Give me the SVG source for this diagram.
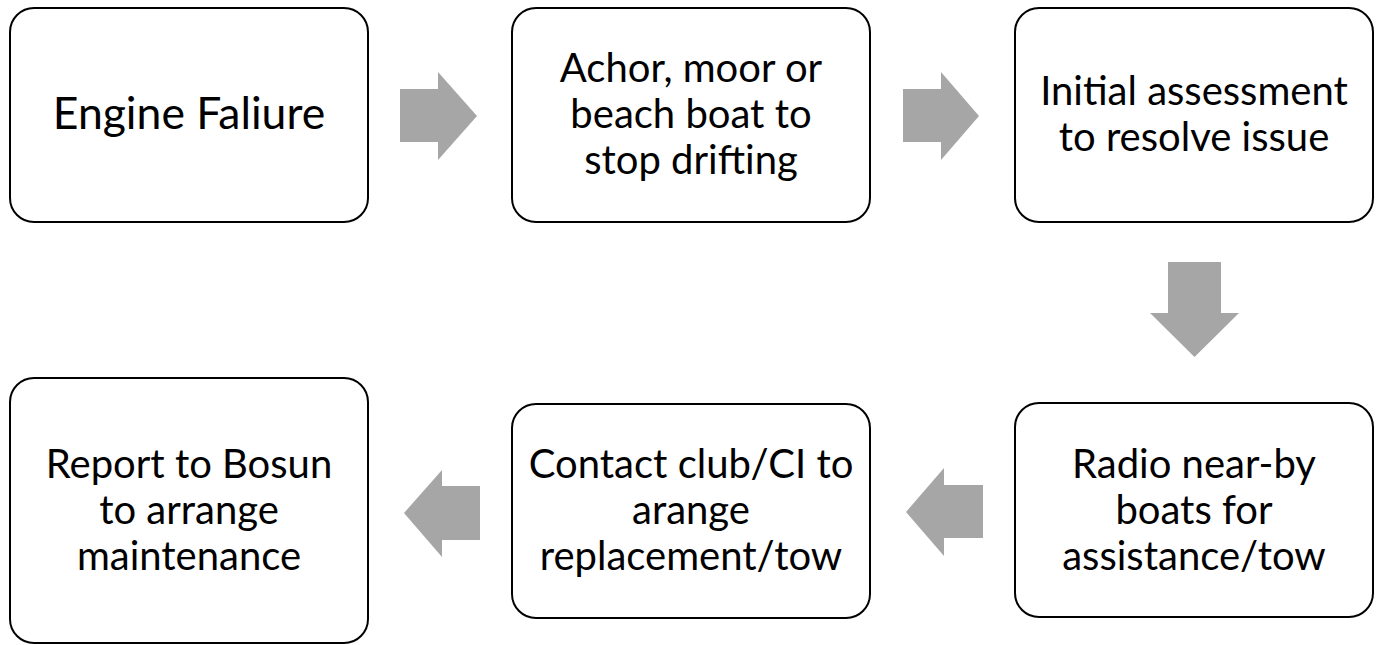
<svg xmlns="http://www.w3.org/2000/svg" width="1381" height="645" viewBox="0 0 1381 645">
<style>
.box{fill:#fff;stroke:#000;stroke-width:2}
.t{font-family:Lato,"Liberation Sans",sans-serif;font-size:40px;fill:#000;text-anchor:middle}
.big{font-size:44.5px}
.arr{fill:#a6a6a6}
</style>
<rect width="1381" height="645" fill="#fff"/>
<g id="connectors">
<polygon class="arr" points="400,89 438,89 438,72 477,116 438,160 438,142 400,142"/>
<polygon class="arr" points="903,89 941,89 941,72 979,116 941,160 941,142 903,142"/>
<polygon class="arr" points="1168,262 1221,262 1221,313 1239,313 1194.5,357 1150,313 1168,313"/>
<polygon class="arr" points="983,485 944,485 944,468 906,512 944,556 944,538 983,538"/>
<polygon class="arr" points="480,486 442,486 442,470 404,513 442,557 442,540 480,540"/>
</g>
<g id="n1"><rect class="box" x="10" y="8" width="358" height="214" rx="24"/><text class="t big" x="189" y="129">Engine Faliure</text></g>
<g id="n2"><rect class="box" x="512" y="8" width="358" height="214" rx="24"/><text class="t" x="691"><tspan x="691" y="82">Achor, moor or</tspan><tspan x="691" y="128">beach boat to</tspan><tspan x="691" y="174">stop drifting</tspan></text></g>
<g id="n3"><rect class="box" x="1015" y="8" width="358" height="214" rx="24"/><text class="t" x="1194"><tspan x="1194" y="105">Initial assessment</tspan><tspan x="1194" y="151">to resolve issue</tspan></text></g>
<g id="n4"><rect class="box" x="1015" y="403" width="358" height="214" rx="24"/><text class="t" x="1194"><tspan x="1194" y="478">Radio near-by</tspan><tspan x="1194" y="524">boats for</tspan><tspan x="1194" y="570">assistance/tow</tspan></text></g>
<g id="n5"><rect class="box" x="512" y="404" width="358" height="214" rx="24"/><text class="t" x="691"><tspan x="691" y="478">Contact club/CI to</tspan><tspan x="691" y="524">arange</tspan><tspan x="691" y="570">replacement/tow</tspan></text></g>
<g id="n6"><rect class="box" x="10" y="378" width="358" height="265" rx="24"/><text class="t" x="189"><tspan x="189" y="478">Report to Bosun</tspan><tspan x="189" y="524">to arrange</tspan><tspan x="189" y="570">maintenance</tspan></text></g>
</svg>
